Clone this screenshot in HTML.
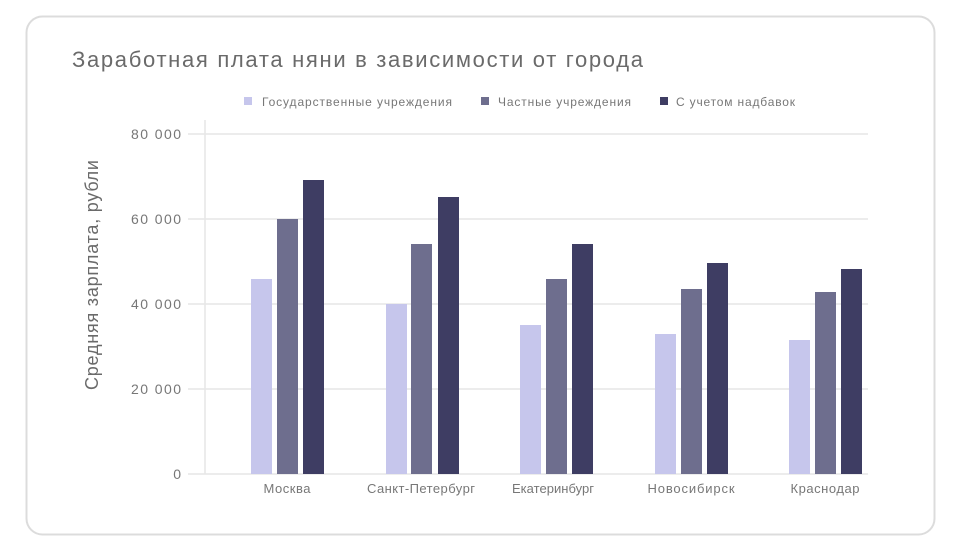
<!DOCTYPE html>
<html><head><meta charset="utf-8"><style>
body{margin:0;background:#fff;width:961px;height:550px;overflow:hidden;font-family:"Liberation Sans","DejaVu Sans",sans-serif}
</style></head><body>
<svg width="961" height="550" xmlns="http://www.w3.org/2000/svg" font-family="Liberation Sans, DejaVu Sans, sans-serif">
<rect x="26.5" y="16.5" width="908" height="518" rx="16" fill="#fff" stroke="#dcdcdc" stroke-width="2"/>
<text x="72" y="67" font-size="22" fill="#6a6a6a" textLength="571" lengthAdjust="spacing">Заработная плата няни в зависимости от города</text>
<g font-size="12" fill="#777">
<rect x="244" y="97" width="8" height="8" fill="#c6c6ec"/><text x="262" y="106" textLength="190" lengthAdjust="spacing">Государственные учреждения</text>
<rect x="481" y="97" width="8" height="8" fill="#6e6e8e"/><text x="498" y="106" textLength="133" lengthAdjust="spacing">Частные учреждения</text>
<rect x="660" y="97" width="8" height="8" fill="#3e3d63"/><text x="676" y="106" textLength="119" lengthAdjust="spacing">С учетом надбавок</text>
</g>
<g stroke="#e6e6e6" stroke-width="1.5">
<line x1="188" y1="134" x2="868" y2="134"/><line x1="188" y1="219" x2="868" y2="219"/>
<line x1="188" y1="304" x2="868" y2="304"/><line x1="188" y1="389" x2="868" y2="389"/>
<line x1="188" y1="474" x2="868" y2="474"/>
<line x1="205" y1="120" x2="205" y2="474"/>
</g>
<g font-size="14" fill="#777">
<text x="131" y="139" textLength="50" lengthAdjust="spacing">80 000</text><text x="131" y="224" textLength="50" lengthAdjust="spacing">60 000</text><text x="131" y="309" textLength="50" lengthAdjust="spacing">40 000</text><text x="131" y="394" textLength="50" lengthAdjust="spacing">20 000</text><text x="181" y="479" text-anchor="end">0</text>
</g>
<text transform="translate(98,275) rotate(-90)" font-size="18" fill="#6a6a6a" text-anchor="middle" textLength="230" lengthAdjust="spacing">Средняя зарплата, рубли</text>
<g>
<rect x="251" y="279" width="21" height="195" fill="#c6c6ec"/><rect x="277" y="219" width="21" height="255" fill="#6e6e8e"/><rect x="303" y="180" width="21" height="294" fill="#3e3d63"/>
<rect x="386" y="304" width="21" height="170" fill="#c6c6ec"/><rect x="411" y="244" width="21" height="230" fill="#6e6e8e"/><rect x="438" y="197" width="21" height="277" fill="#3e3d63"/>
<rect x="520" y="325" width="21" height="149" fill="#c6c6ec"/><rect x="546" y="279" width="21" height="195" fill="#6e6e8e"/><rect x="572" y="244" width="21" height="230" fill="#3e3d63"/>
<rect x="655" y="334" width="21" height="140" fill="#c6c6ec"/><rect x="681" y="289" width="21" height="185" fill="#6e6e8e"/><rect x="707" y="263" width="21" height="211" fill="#3e3d63"/>
<rect x="789" y="340" width="21" height="134" fill="#c6c6ec"/><rect x="815" y="292" width="21" height="182" fill="#6e6e8e"/><rect x="841" y="269" width="21" height="205" fill="#3e3d63"/>
</g>
<g font-size="13" fill="#777" text-anchor="middle">
<text x="287" y="493" textLength="47" lengthAdjust="spacing">Москва</text><text x="421" y="493" textLength="108" lengthAdjust="spacing">Санкт-Петербург</text><text x="553" y="493" textLength="82" lengthAdjust="spacing">Екатеринбург</text><text x="691" y="493" textLength="87" lengthAdjust="spacing">Новосибирск</text><text x="825" y="493" textLength="69" lengthAdjust="spacing">Краснодар</text>
</g>
</svg>
</body></html>
